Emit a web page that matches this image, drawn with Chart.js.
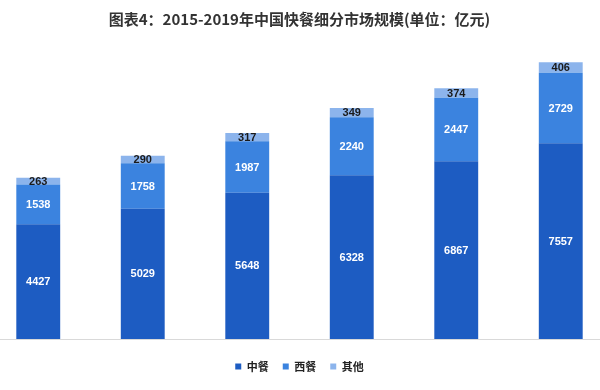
<!DOCTYPE html>
<html>
<head>
<meta charset="utf-8">
<script src="https://cdn.jsdelivr.net/npm/chart.js@4"></script>
<style>
  html, body { margin: 0; padding: 0; background: #fff; overflow: hidden; }
  #wrap { position: absolute; left: -14px; top: 0; width: 627px; height: 390px; }
</style>
</head>
<body>
<div id="wrap"><canvas id="graph"></canvas></div>
<script>
// donnees
const years = ['2014', '2015', '2016', '2017', '2018', '2019'];
const zhongcan = [4427, 5029, 5648, 6328, 6867, 7557];
const xican = [1538, 1758, 1987, 2240, 2447, 2729];
const qita = [263, 290, 317, 349, 374, 406];

const labelFont = 'bold 11px "Liberation Sans", "Noto Sans", sans-serif';

// etiquettes au centre de chaque segment
const segmentLabels = {
  id: 'segmentLabels',
  afterDatasetsDraw(chart) {
    const ctx = chart.ctx;
    ctx.save();
    ctx.font = labelFont;
    ctx.textAlign = 'center';
    ctx.textBaseline = 'middle';
    chart.data.datasets.forEach((ds, i) => {
      const meta = chart.getDatasetMeta(i);
      meta.data.forEach((bar, j) => {
        const y = (bar.y + bar.base) / 2;
        ctx.fillStyle = i === 2 ? '#1a1a1a' : '#ffffff';
        ctx.fillText(String(ds.data[j]), bar.x, y + 0.5);
      });
    });
    ctx.restore();
  }
};

new Chart(document.getElementById('graph'), {
  type: 'bar',
  data: {
    labels: years,
    datasets: [
      { label: '中餐', data: zhongcan, backgroundColor: '#1d5cc2' },
      { label: '西餐', data: xican, backgroundColor: '#3b83df' },
      { label: '其他', data: qita, backgroundColor: '#8cb4ec' }
    ]
  },
  options: {
    responsive: true,
    maintainAspectRatio: false,
    animation: false,
    layout: { padding: { left: 0, right: 0, top: 0, bottom: 8 } },
    datasets: {
      bar: { categoryPercentage: 1, barPercentage: 0.42 }
    },
    plugins: {
      title: {
        display: true,
        text: '图表4：2015-2019年中国快餐细分市场规模(单位：亿元)',
        color: '#333333',
        font: { family: '"Noto Sans CJK SC", sans-serif', size: 15, weight: 'bold' },
        padding: { top: 10, bottom: 21 }
      },
      legend: {
        position: 'bottom',
        labels: {
          boxWidth: 6,
          boxHeight: 6,
          padding: 14,
          color: '#222222',
          font: { family: '"Noto Sans CJK SC", sans-serif', size: 11, weight: 'bold' }
        }
      },
      tooltip: { enabled: false }
    },
    scales: {
      x: {
        stacked: true,
        grid: { display: false },
        border: { display: true, color: '#d9d9d9' },
        ticks: { display: false }
      },
      y: {
        stacked: true,
        display: false,
        min: 0,
        max: 11200
      }
    }
  },
  plugins: [segmentLabels]
});
</script>
</body>
</html>
